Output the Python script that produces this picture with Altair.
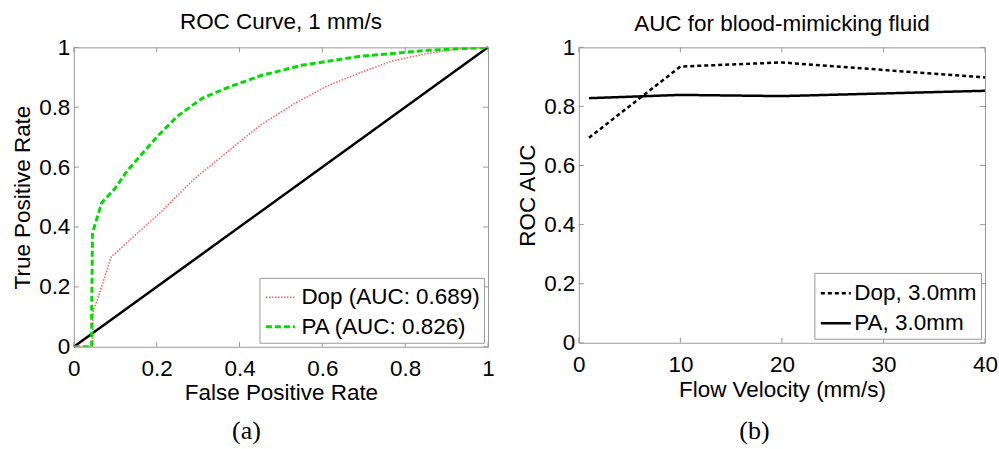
import altair as alt
import pandas as pd

# ---- Panel (a): ROC curves at 1 mm/s ----
pa_fpr = [0.0, 0.043, 0.043, 0.045, 0.067, 0.10, 0.13, 0.20, 0.25, 0.31, 0.37, 0.45, 0.55, 0.69, 0.855, 1.0]
pa_tpr = [0.0, 0.0, 0.10, 0.38, 0.48, 0.53, 0.59, 0.70, 0.77, 0.83, 0.865, 0.905, 0.94, 0.97, 0.99, 1.0]
dop_fpr = [0.0, 0.046, 0.046, 0.067, 0.09, 0.13, 0.21, 0.29, 0.37, 0.45, 0.53, 0.61, 0.69, 0.77, 0.855, 0.935, 1.0]
dop_tpr = [0.0, 0.0, 0.115, 0.20, 0.30, 0.35, 0.45, 0.56, 0.65, 0.74, 0.81, 0.87, 0.915, 0.955, 0.98, 0.996, 1.0]
diag_x = [0.0, 1.0]
diag_y = [0.0, 1.0]
roc_labels = ["Dop (AUC: 0.689)", "PA (AUC: 0.826)"]
roc_ticks = [0.0, 0.2, 0.4, 0.6, 0.8, 1.0]

# ---- Panel (b): AUC vs flow velocity ----
velocity = [1, 10, 20, 40]
dop_auc = [0.694, 0.935, 0.949, 0.898]
pa_auc = [0.828, 0.839, 0.835, 0.853]
auc_labels = ["Dop, 3.0mm", "PA, 3.0mm"]
vel_ticks = [0, 10, 20, 30, 40]
auc_ticks = [0.0, 0.2, 0.4, 0.6, 0.8, 1.0]

captions = ["(a)", "(b)"]

FONT = "Liberation Sans"
FS = 22.5
GREY = "#999999"
TICK = 5

roc_df = pd.concat([
    pd.DataFrame({"x": dop_fpr, "y": dop_tpr, "series": roc_labels[0], "ord": range(len(dop_fpr))}),
    pd.DataFrame({"x": pa_fpr, "y": pa_tpr, "series": roc_labels[1], "ord": range(len(pa_fpr))}),
])
diag_df = pd.DataFrame({"x": diag_x, "y": diag_y})
auc_df = pd.concat([
    pd.DataFrame({"v": velocity, "auc": dop_auc, "series": auc_labels[0]}),
    pd.DataFrame({"v": velocity, "auc": pa_auc, "series": auc_labels[1]}),
])

LBL = "datum.value == 0 ? '0' : datum.value == 1 ? '1' : datum.label"


def axis_x(title, values, lp, tp):
    return alt.Axis(title=title, values=values, ticks=False, tickSize=0, domain=False, grid=False,
                    labelPadding=lp, titlePadding=tp, labelFlush=False, labelExpr=LBL)


def axis_y(title, values, lp, tp):
    return alt.Axis(title=title, values=values, ticks=False, tickSize=0, domain=False, grid=False,
                    labelPadding=lp, titlePadding=tp, labelFlush=False, labelExpr=LBL)


def inward_ticks(xvals, yvals, xdom, ydom, w, h, ax, ay, xs, ys):
    lx = TICK / w * (xdom[1] - xdom[0])
    ly = TICK / h * (ydom[1] - ydom[0])
    tx = pd.DataFrame({"t": xvals})
    ty = pd.DataFrame({"t": yvals})
    layers = []
    for y0, y1 in [(ydom[0], ydom[0] + ly), (ydom[1], ydom[1] - ly)]:
        layers.append(alt.Chart(tx).mark_rule(color=GREY, strokeWidth=1).encode(
            x=alt.X("t:Q", scale=xs, axis=ax),
            y=alt.YDatum(y0, scale=ys, axis=ay, type="quantitative"),
            y2=alt.datum(y1),
        ))
    for x0, x1 in [(xdom[0], xdom[0] + lx), (xdom[1], xdom[1] - lx)]:
        layers.append(alt.Chart(ty).mark_rule(color=GREY, strokeWidth=1).encode(
            y=alt.Y("t:Q", scale=ys, axis=ay),
            x=alt.XDatum(x0, scale=xs, axis=ax, type="quantitative"),
            x2=alt.datum(x1),
        ))
    return layers


def legend(size, label_offset, **kw):
    return alt.Legend(title=None, orient="bottom-right", offset=4, symbolType="stroke",
                      symbolSize=size, labelFont=FONT, labelFontSize=FS, labelColor="black",
                      strokeColor=GREY, fillColor="white", padding=4, rowPadding=2,
                      labelOffset=label_offset, labelLimit=400, symbolOffset=1, **kw)


# ---------- left panel ----------
W_A, H_A = 415, 300
dom_a = [0, 1]
xs_a = alt.Scale(domain=dom_a, nice=False)
ys_a = alt.Scale(domain=dom_a, nice=False)
ax_a = axis_x("False Positive Rate", roc_ticks, 11, 1)
ay_a = axis_y("True Positive Rate", roc_ticks, 4, 4)

roc_lines = alt.Chart(roc_df).mark_line(clip=True).encode(
    x=alt.X("x:Q", scale=xs_a, axis=ax_a),
    y=alt.Y("y:Q", scale=ys_a, axis=ay_a),
    order="ord:Q",
    color=alt.Color("series:N", sort=roc_labels,
                    scale=alt.Scale(domain=roc_labels, range=["#ff5a5a", "#00dd00"]),
                    legend=legend(841, 5)),
    strokeDash=alt.StrokeDash("series:N", sort=roc_labels,
                              scale=alt.Scale(domain=roc_labels, range=[[1.5, 1.5], [6, 3]]), legend=None),
    strokeWidth=alt.StrokeWidth("series:N", sort=roc_labels,
                                scale=alt.Scale(domain=roc_labels, range=[1.5, 3]), legend=None),
)

diag = alt.Chart(diag_df).mark_line(color="black", strokeWidth=2.5).encode(
    x=alt.X("x:Q", scale=xs_a, axis=ax_a), y=alt.Y("y:Q", scale=ys_a, axis=ay_a)
)

cap_a = alt.Chart(pd.DataFrame({"c": [captions[0]]})).mark_text(
    font="Liberation Serif", fontSize=26, color="black", baseline="middle", align="center"
).encode(text="c:N", x=alt.value(173), y=alt.value(384))

left = alt.layer(
    diag, roc_lines,
    *inward_ticks(roc_ticks, roc_ticks, dom_a, dom_a, W_A, H_A, ax_a, ay_a, xs_a, ys_a),
    cap_a,
).properties(
    width=W_A, height=H_A,
    title=alt.TitleParams("ROC Curve, 1 mm/s", font=FONT, fontSize=FS, fontWeight="normal", color="black", offset=3),
)

# ---------- right panel ----------
W_B, H_B = 407, 296
xdom_b = [0, 40]
ydom_b = [0, 1]
xs_b = alt.Scale(domain=xdom_b, nice=False)
ys_b = alt.Scale(domain=ydom_b, nice=False)
ax_b = axis_x("Flow Velocity (mm/s)", vel_ticks, 11, 2)
ay_b = axis_y("ROC AUC", auc_ticks, 4, 4)

auc_lines = alt.Chart(auc_df).mark_line(color="black", clip=True).encode(
    x=alt.X("v:Q", scale=xs_b, axis=ax_b),
    y=alt.Y("auc:Q", scale=ys_b, axis=ay_b),
    strokeDash=alt.StrokeDash("series:N", sort=auc_labels,
                              scale=alt.Scale(domain=auc_labels, range=[[4, 3], [1, 0]]),
                              legend=legend(900, 2, symbolStrokeColor="black", symbolStrokeWidth=2.5)),
    strokeWidth=alt.value(2.5),
)

cap_b = alt.Chart(pd.DataFrame({"c": [captions[1]]})).mark_text(
    font="Liberation Serif", fontSize=26, color="black", baseline="middle", align="center"
).encode(text="c:N", x=alt.value(176), y=alt.value(384))

right = alt.layer(
    auc_lines,
    *inward_ticks(vel_ticks, auc_ticks, xdom_b, ydom_b, W_B, H_B, ax_b, ay_b, xs_b, ys_b),
    cap_b,
).properties(
    width=W_B, height=H_B,
    title=alt.TitleParams("AUC for blood-mimicking fluid", font=FONT, fontSize=FS, fontWeight="normal", color="black", offset=1),
)

chart = alt.hconcat(left, right, spacing=21).resolve_scale(
    x="independent", y="independent", color="independent", strokeDash="independent", strokeWidth="independent"
).resolve_legend(
    color="independent", strokeDash="independent", strokeWidth="independent"
).configure_view(
    stroke=GREY, strokeWidth=1
).configure_axis(
    labelFont=FONT, labelFontSize=FS, labelColor="black",
    titleFont=FONT, titleFontSize=FS, titleColor="black", titleFontWeight="normal",
).properties(
    padding={"left": 11, "top": 10, "right": 0, "bottom": 2},
    background="white",
)

chart.save("out.html", embed_options={"renderer": "svg", "actions": False})
